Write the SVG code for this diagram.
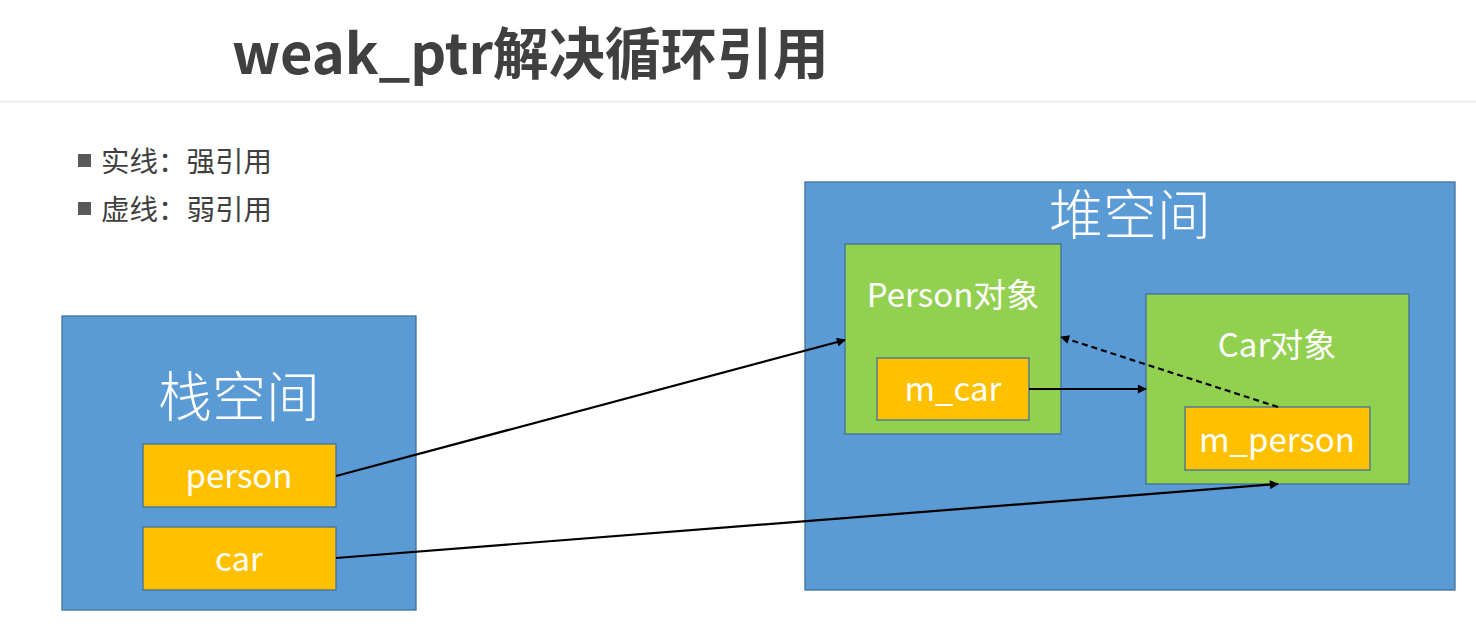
<svg xmlns="http://www.w3.org/2000/svg" width="1476" height="632" viewBox="0 0 1476 632">
<style>
.cjk{font-family:"Noto Sans CJK SC","Noto Sans",sans-serif}
.space{fill:#5b9bd5;stroke:#41719c;stroke-width:1.3}
.obj{fill:#92d050;stroke:#41719c;stroke-width:1.3}
.var{fill:#ffc000;stroke:#41719c;stroke-width:1.3}
.big{font-family:"Noto Sans CJK SC",sans-serif;font-size:54px;font-weight:300;fill:#fff;text-anchor:middle}
.lbl{font-family:"Noto Sans CJK SC","Noto Sans",sans-serif;font-size:33px;fill:#fff;text-anchor:middle}
.conn{stroke:#000;stroke-width:2.2;fill:none}
</style>
<defs>
<marker id="ah2" viewBox="0 0 10 10" refX="9" refY="5" markerWidth="12" markerHeight="9" markerUnits="userSpaceOnUse" orient="auto"><path d="M0,0 L10,5 L0,10 z" fill="#000"/></marker>
</defs>
<rect width="1476" height="632" fill="#fff"/>
<g id="title">
<text x="232" y="74" class="cjk" font-size="56" font-weight="bold" fill="#404040">weak_ptr解决循环引用</text>
<rect x="0" y="100" width="1476" height="3" fill="#f2f2f2"/>
</g>
<g id="legend" class="cjk" font-size="28.5" fill="#404040">
<rect x="78" y="154" width="13" height="13" fill="#595959"/>
<text x="101" y="172">实线：强引用</text>
<rect x="78" y="202" width="13" height="13" fill="#595959"/>
<text x="101" y="220">虚线：弱引用</text>
</g>
<g id="stack">
<rect x="62" y="316" width="354" height="294" class="space"/>
<text x="239" y="417" class="big">栈空间</text>
</g>
<g id="person">
<rect x="143" y="444" width="193" height="63" class="var"/>
<text x="239" y="488" class="lbl">person</text>
</g>
<g id="car">
<rect x="143" y="527" width="193" height="63" class="var"/>
<text x="239" y="571" class="lbl">car</text>
</g>
<g id="heap">
<rect x="805" y="182" width="650" height="408" class="space"/>
<text x="1130" y="235" class="big">堆空间</text>
</g>
<g id="personObj">
<rect x="845" y="244" width="216" height="190" class="obj"/>
<text x="953" y="307" class="lbl">Person对象</text>
</g>
<g id="m_car">
<rect x="877" y="358" width="152" height="62" class="var"/>
<text x="953" y="401" class="lbl">m_car</text>
</g>
<g id="carObj">
<rect x="1146" y="294" width="263" height="190" class="obj"/>
<text x="1277" y="357" class="lbl">Car对象</text>
</g>
<g id="m_person">
<rect x="1185" y="407" width="185" height="63" class="var"/>
<text x="1277" y="452" class="lbl">m_person</text>
</g>
<g id="connectors">
<line x1="336" y1="476" x2="845" y2="340" class="conn" marker-end="url(#ah2)"/>
<line x1="336" y1="558" x2="1278" y2="484" class="conn" marker-end="url(#ah2)"/>
<line x1="1029" y1="389" x2="1146" y2="389" class="conn" marker-end="url(#ah2)"/>
<line x1="1278" y1="407" x2="1061" y2="337" class="conn" stroke-dasharray="6,4" marker-end="url(#ah2)"/>
</g>
</svg>
